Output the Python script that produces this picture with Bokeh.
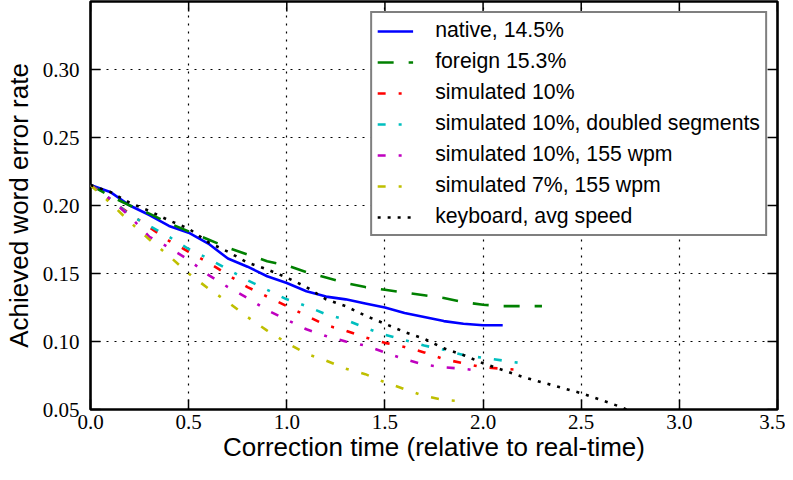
import math
from bokeh.plotting import figure
from bokeh.models import FixedTicker, PrintfTickFormatter, Range1d, Legend, LegendItem
from bokeh.embed import file_html
from bokeh.resources import INLINE

# ---- data ----
x_native = [0.0, 0.1, 0.2, 0.3, 0.4, 0.5, 0.6, 0.7, 0.8, 0.9, 1.0, 1.1, 1.2, 1.3, 1.4, 1.5,
            1.6, 1.7, 1.8, 1.9, 2.0, 2.1]
y_native = [0.215, 0.210, 0.200, 0.193, 0.185, 0.180, 0.172, 0.161, 0.155, 0.148, 0.143, 0.137,
            0.133, 0.131, 0.128, 0.125, 0.121, 0.118, 0.115, 0.113, 0.112, 0.112]

x_foreign = [0.0, 0.1, 0.2, 0.3, 0.4, 0.5, 0.6, 0.7, 0.8, 0.9, 1.0, 1.1, 1.2, 1.3, 1.4, 1.5,
             1.6, 1.7, 1.8, 1.9, 2.0, 2.1, 2.2, 2.3]
y_foreign = [0.215, 0.207, 0.200, 0.194, 0.187, 0.181, 0.175, 0.169, 0.164, 0.159, 0.156, 0.151,
             0.147, 0.143, 0.140, 0.138, 0.136, 0.134, 0.132, 0.129, 0.127, 0.126, 0.126, 0.126]

x_sim10 = [0.0, 0.1, 0.2, 0.3, 0.4, 0.5, 0.6, 0.7, 0.8, 0.9, 1.0, 1.1, 1.2, 1.3, 1.4, 1.5,
           1.6, 1.7, 1.8, 1.9, 2.0, 2.1, 2.2]
y_sim10 = [0.215, 0.204, 0.194, 0.184, 0.174, 0.166, 0.158, 0.149, 0.140, 0.133, 0.126, 0.119,
           0.112, 0.108, 0.103, 0.099, 0.096, 0.092, 0.087, 0.084, 0.081, 0.080, 0.079]

x_sim10_doubled = [0.0, 0.1, 0.2, 0.3, 0.4, 0.5, 0.6, 0.7, 0.8, 0.9, 1.0, 1.1, 1.2, 1.3, 1.4,
                   1.5, 1.6, 1.7, 1.8, 1.9, 2.0, 2.1, 2.2, 2.23]
y_sim10_doubled = [0.215, 0.205, 0.193, 0.185, 0.177, 0.168, 0.161, 0.153, 0.145, 0.138, 0.131,
                   0.126, 0.120, 0.116, 0.110, 0.105, 0.101, 0.097, 0.094, 0.090, 0.088, 0.086,
                   0.084, 0.084]

x_sim10_155 = [0.0, 0.1, 0.2, 0.3, 0.4, 0.5, 0.6, 0.7, 0.8, 0.9, 1.0, 1.1, 1.2, 1.3, 1.4, 1.5,
               1.6, 1.7, 1.8, 1.9, 1.95]
y_sim10_155 = [0.215, 0.205, 0.192, 0.177, 0.169, 0.160, 0.149, 0.140, 0.132, 0.123, 0.116,
               0.109, 0.104, 0.100, 0.097, 0.092, 0.087, 0.083, 0.081, 0.080, 0.079]

x_sim7_155 = [0.0, 0.1, 0.2, 0.3, 0.4, 0.5, 0.6, 0.7, 0.8, 0.9, 1.0, 1.1, 1.2, 1.3, 1.4, 1.5,
              1.6, 1.7, 1.8, 1.9]
y_sim7_155 = [0.215, 0.202, 0.188, 0.175, 0.163, 0.150, 0.139, 0.129, 0.118, 0.108, 0.099,
              0.091, 0.086, 0.080, 0.076, 0.070, 0.065, 0.060, 0.057, 0.056]

x_keyboard = [0.0, 0.1, 0.2, 0.3, 0.4, 0.5, 0.6, 0.7, 0.8, 0.9, 1.0, 1.1, 1.2, 1.3, 1.4, 1.5,
              1.6, 1.7, 1.8, 1.9, 2.0, 2.1, 2.2, 2.3, 2.4, 2.5, 2.6, 2.7, 2.73]
y_keyboard = [0.215, 0.210, 0.202, 0.196, 0.189, 0.183, 0.173, 0.166, 0.158, 0.153, 0.147, 0.140,
              0.131, 0.126, 0.119, 0.113, 0.107, 0.102, 0.095, 0.090, 0.084, 0.079, 0.074, 0.070,
              0.066, 0.062, 0.057, 0.052, 0.050]

labels = ["native, 14.5%", "foreign 15.3%", "simulated 10%", "simulated 10%, doubled segments",
          "simulated 10%, 155 wpm", "simulated 7%, 155 wpm", "keyboard, avg speed"]
x_ticks = [0.0, 0.5, 1.0, 1.5, 2.0, 2.5, 3.0, 3.5]
y_ticks = [0.05, 0.10, 0.15, 0.20, 0.25, 0.30]
x_label = "Correction time (relative to real-time)"
y_label = "Achieved word error rate"
x_min, x_max = 0.0, 3.5
y_min, y_max = 0.05, 0.35

# ---- figure ----
p = figure(width=785, height=464, x_range=Range1d(x_min, x_max), y_range=Range1d(y_min, y_max),
           output_backend="svg", toolbar_location=None,
           min_border_left=84, min_border_right=8, min_border_top=1, min_border_bottom=10)
p.background_fill_color = "white"
p.border_fill_color = "white"
p.outline_line_color = "black"
p.outline_line_width = 2.6

tick_font = "Liberation Serif"
label_font = "Liberation Sans"

xa = p.xaxis[0]
xa.ticker = FixedTicker(ticks=x_ticks)
xa.formatter = PrintfTickFormatter(format="%.1f")
ya = p.yaxis[0]
ya.ticker = FixedTicker(ticks=y_ticks)
ya.formatter = PrintfTickFormatter(format="%.2f")

for ax in (xa, ya):
    ax.axis_line_color = None
    ax.major_tick_in = 10
    ax.major_tick_out = 0
    ax.major_tick_line_width = 1.5
    ax.major_tick_line_color = "black"
    ax.minor_tick_line_color = None
    ax.major_label_text_font = tick_font
    ax.major_label_text_font_size = "21px"
    ax.major_label_text_color = "black"
    ax.axis_label_text_font = label_font
    ax.axis_label_text_font_size = "26px"
    ax.axis_label_text_font_style = "normal"
    ax.axis_label_text_color = "black"

xa.axis_label = x_label
ya.axis_label = y_label
xa.major_label_standoff = 5
xa.axis_label_standoff = 0
ya.major_label_standoff = 11
ya.axis_label_standoff = 6

# mirrored inward ticks on the top and right spines (screen-length rays)
p.ray(x=x_ticks, y=[y_max] * len(x_ticks), length=10, length_units="screen",
      angle=-math.pi / 2, line_color="black", line_width=1.5)
p.ray(x=[x_max] * len(y_ticks), y=y_ticks, length=10, length_units="screen",
      angle=math.pi, line_color="black", line_width=1.5)

for g in (p.xgrid[0], p.ygrid[0]):
    g.grid_line_color = "black"
    g.grid_line_dash = "2 6"
    g.grid_line_width = 1.2
p.xgrid[0].ticker = FixedTicker(ticks=x_ticks)
p.ygrid[0].ticker = FixedTicker(ticks=y_ticks)

series = [
    (x_native, y_native, "#0000ff", "solid"),
    (x_foreign, y_foreign, "#008000", "16 15"),
    (x_sim10, y_sim10, "#ff0000", "8 13 3 13"),
    (x_sim10_doubled, y_sim10_doubled, "#00bfbf", "8 13 3 13"),
    (x_sim10_155, y_sim10_155, "#bf00bf", "8 13 3 13"),
    (x_sim7_155, y_sim7_155, "#bfbf00", "8 13 3 13"),
    (x_keyboard, y_keyboard, "#000000", "3 7"),
]

items = []
for (xs, ys, col, dash), lab in zip(series, labels):
    r = p.line(xs, ys, line_color=col, line_width=2.6, line_dash=dash)
    items.append(LegendItem(label=lab, renderers=[r]))

legend = Legend(items=items, location="top_right")
legend.label_text_font = label_font
legend.label_text_font_size = "21.25px"
legend.label_text_color = "black"
legend.glyph_width = 36
legend.glyph_height = 22
legend.label_height = 22
legend.label_standoff = 22
legend.spacing = 6
legend.padding = 5
legend.margin = 10
legend.border_line_color = "black"
legend.border_line_width = 2.6
legend.background_fill_color = "white"
legend.background_fill_alpha = 1.0
p.add_layout(legend)

open("out.html", "w").write(file_html(p, INLINE))
